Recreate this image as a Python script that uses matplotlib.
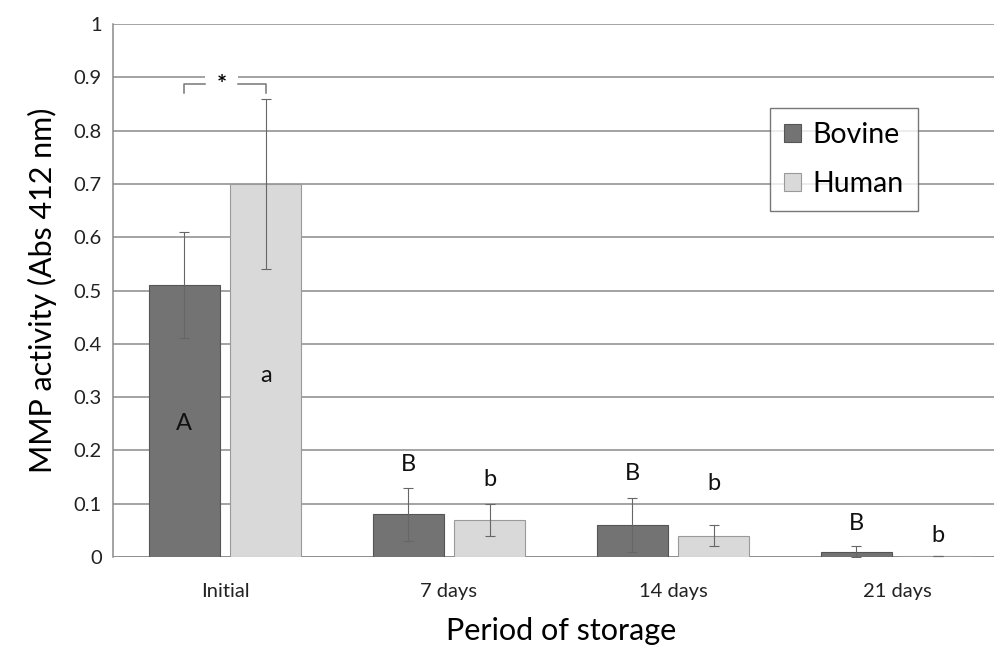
import matplotlib
matplotlib.use("Agg")
import matplotlib.pyplot as plt
import numpy as np

categories = ["Initial", "7 days", "14 days", "21 days"]
bovine = [0.51, 0.08, 0.06, 0.01]
bovine_err = [0.10, 0.05, 0.05, 0.01]
human = [0.70, 0.07, 0.04, 0.002]
human_err = [0.16, 0.03, 0.02, 0.0]
bovine_letters = ["A", "B", "B", "B"]
human_letters = ["a", "b", "b", "b"]
bovine_letter_y = [0.25, 0.173, 0.156, 0.062]
human_letter_y = [0.34, 0.145, 0.137, 0.040]

plt.rcParams['font.family'] = ['Lato', 'DejaVu Sans']

fig = plt.figure(figsize=(9.95, 6.46), dpi=100)
W, H = 995, 646
left, right, top, bottom = 113, 1009, 24, 557
ax = fig.add_axes([left / W, 1 - bottom / H, (right - left) / W, (bottom - top) / H])

x = np.arange(len(categories))
bw = 0.317
off = 0.183
ax.bar(x - off, bovine, bw, color="#737373", edgecolor="#555555", linewidth=0.8, zorder=3, label="Bovine")
ax.bar(x + off, human, bw, color="#d9d9d9", edgecolor="#9a9a9a", linewidth=0.8, zorder=3, label="Human")
ax.errorbar(x - off, bovine, yerr=bovine_err, fmt="none", ecolor="#666666", elinewidth=0.8, capsize=3.5, capthick=0.8, zorder=4)
ax.errorbar(x + off, human, yerr=human_err, fmt="none", ecolor="#666666", elinewidth=0.8, capsize=3.5, capthick=0.8, zorder=4)

for i in range(len(categories)):
    ax.text(x[i] - off, bovine_letter_y[i], bovine_letters[i], ha="center", va="center", fontsize=17, color="#111111", zorder=5)
    ax.text(x[i] + off, human_letter_y[i], human_letters[i], ha="center", va="center", fontsize=17, color="#111111", zorder=5)

ax.set_xlim(-0.5, len(categories) - 0.5)
ax.set_ylim(0, 1)
ax.set_yticks(np.arange(0, 1.01, 0.1))
ax.set_yticklabels(["0", "0.1", "0.2", "0.3", "0.4", "0.5", "0.6", "0.7", "0.8", "0.9", "1"], fontsize=14.5, color="#222222")
ax.set_xticks(x)
ax.set_xticklabels(categories, fontsize=14.5, color="#222222")
ax.tick_params(axis="y", length=0, pad=8)
ax.tick_params(axis="x", length=0, pad=19)
ax.yaxis.grid(True, color="#8a8a8a", linewidth=1.1, zorder=0)
ax.set_axisbelow(True)
for s in ["top", "right", "bottom"]:
    ax.spines[s].set_visible(False)
ax.spines["left"].set_color("#8a8a8a")
ax.spines["left"].set_linewidth(1.1)
ax.axhline(0, color="#8a8a8a", linewidth=1.1, zorder=2)

ax.set_ylabel("MMP activity (Abs 412 nm)", fontsize=22, labelpad=12)
ax.set_xlabel("Period of storage", fontsize=22, labelpad=12)

# significance bracket
ax.add_patch(plt.Rectangle((-0.089, 0.88), 0.147, 0.04, facecolor="white", edgecolor="none", zorder=1))
ax.plot([-off, -off, -0.09], [0.870, 0.887, 0.887], color="#777777", linewidth=1.1, zorder=4)
ax.plot([0.06, off, off], [0.887, 0.887, 0.870], color="#777777", linewidth=1.1, zorder=4)
ax.text(-0.015, 0.884, "*", ha="center", va="center", fontsize=17, fontweight="bold", zorder=5)

leg = ax.legend(loc="upper left", bbox_to_anchor=((770 - left) / (right - left), 1 - (108 - top) / (bottom - top)),
                fontsize=20.5, frameon=True, fancybox=False, handlelength=0.6, handleheight=0.6,
                handletextpad=0.4, borderpad=0.5, labelspacing=0.8, borderaxespad=0)
leg.get_frame().set_edgecolor("#555555")
leg.get_frame().set_linewidth(1.0)
leg.set_zorder(6)

fig.savefig("out.png", dpi=100)
